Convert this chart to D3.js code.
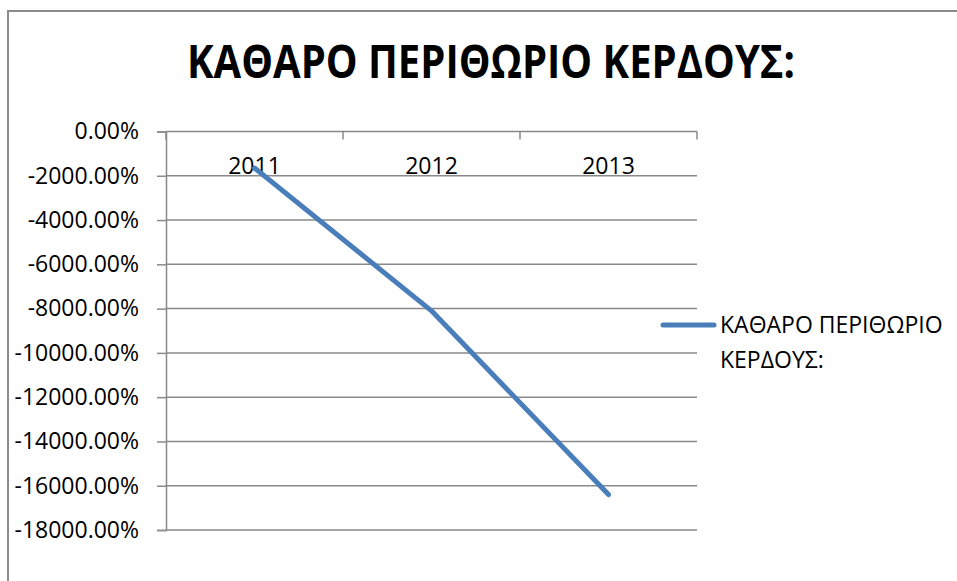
<!DOCTYPE html>
<html>
<head>
<meta charset="utf-8">
<script src="https://cdn.jsdelivr.net/npm/d3@7"></script>
<style>
  html, body { margin: 0; padding: 0; background: #fff; }
  svg { display: block; }
  text { font-family: "Open Sans", "Liberation Sans", sans-serif; fill: #000; }
</style>
</head>
<body>
<svg id="chart" width="957" height="581"></svg>
<script>
// Net profit margin per year (percent)
const years = ["2011", "2012", "2013"];
const netMargin = [-1650, -8100, -16400];
const yTickValues = [0, -2000, -4000, -6000, -8000, -10000, -12000, -14000, -16000, -18000];
const seriesName = "ΚΑΘΑΡΟ ΠΕΡΙΘΩΡΙΟ ΚΕΡΔΟΥΣ:";
const legendLines = ["ΚΑΘΑΡΟ ΠΕΡΙΘΩΡΙΟ", "ΚΕΡΔΟΥΣ:"];

const svg = d3.select("#chart");
const W = 957, H = 581;
const plot = { left: 166, right: 697, top: 131.5, bottom: 530 };
const gridColor = "#898989";
const lineColor = "#4A7EBB";
const fontStack = "\"Open Sans\", \"Liberation Sans\", sans-serif";

// percent labels with a plain hyphen for negatives
const pctFormat = d3.formatLocale({
  decimal: ".", thousands: "", grouping: [3], currency: ["", ""], minus: "-"
}).format(".2f");

// chart frame
svg.append("rect")
  .attr("x", 8).attr("y", 11)
  .attr("width", W + 20).attr("height", H + 20)
  .attr("fill", "#fff")
  .attr("stroke", "#8c8c8c").attr("stroke-width", 2);

// title
svg.append("text")
  .attr("x", 491).attr("y", 78)
  .attr("text-anchor", "middle")
  .attr("font-size", 46)
  .attr("font-weight", "bold")
  .attr("textLength", 608)
  .attr("lengthAdjust", "spacingAndGlyphs")
  .text(seriesName);

const x = d3.scaleBand().domain(years).range([plot.left, plot.right]);
const y = d3.scaleLinear().domain([-18000, 0]).range([plot.bottom, plot.top]);

// horizontal gridlines
svg.append("g")
  .selectAll("line")
  .data(yTickValues)
  .join("line")
  .attr("x1", plot.left).attr("x2", plot.right)
  .attr("y1", d => y(d)).attr("y2", d => y(d))
  .attr("stroke", gridColor).attr("stroke-width", 1.5);

// value axis
const yAxis = d3.axisLeft(y)
  .tickValues(yTickValues)
  .tickSize(9)
  .tickPadding(18)
  .tickFormat(d => pctFormat(d) + "%");

const gy = svg.append("g")
  .attr("transform", `translate(${plot.left},0)`)
  .call(yAxis);
gy.select(".domain").attr("stroke", gridColor).attr("stroke-width", 1.5);
gy.selectAll(".tick line").attr("stroke", gridColor).attr("stroke-width", 1.5);
gy.selectAll(".tick text")
  .attr("font-size", 23)
  .attr("font-family", fontStack)
  .attr("fill", "#000");

// category axis crossing at zero, with boundary ticks
const boundaries = years.map(d => x(d)).concat([plot.right]);
svg.append("g")
  .selectAll("line")
  .data(boundaries)
  .join("line")
  .attr("x1", d => d).attr("x2", d => d)
  .attr("y1", y(0)).attr("y2", y(0) + 8)
  .attr("stroke", gridColor).attr("stroke-width", 1.5);

svg.append("g")
  .selectAll("text")
  .data(years)
  .join("text")
  .attr("x", d => x(d) + x.bandwidth() / 2)
  .attr("y", 174)
  .attr("text-anchor", "middle")
  .attr("font-size", 23)
  .text(d => d);

// series line
const pts = years.map((yr, i) => ({ year: yr, value: netMargin[i] }));
const line = d3.line()
  .x(d => x(d.year) + x.bandwidth() / 2)
  .y(d => y(d.value));

svg.append("path")
  .datum(pts)
  .attr("d", line)
  .attr("fill", "none")
  .attr("stroke", lineColor)
  .attr("stroke-width", 5)
  .attr("stroke-linecap", "round")
  .attr("stroke-linejoin", "round");

// legend
const legend = svg.append("g");
legend.append("line")
  .attr("x1", 663).attr("x2", 714)
  .attr("y1", 325).attr("y2", 325)
  .attr("stroke", lineColor).attr("stroke-width", 5)
  .attr("stroke-linecap", "round");
legend.selectAll("text")
  .data(legendLines)
  .join("text")
  .attr("x", 720)
  .attr("y", (d, i) => 333 + i * 35)
  .attr("font-size", 23)
  .text(d => d);
</script>
</body>
</html>
